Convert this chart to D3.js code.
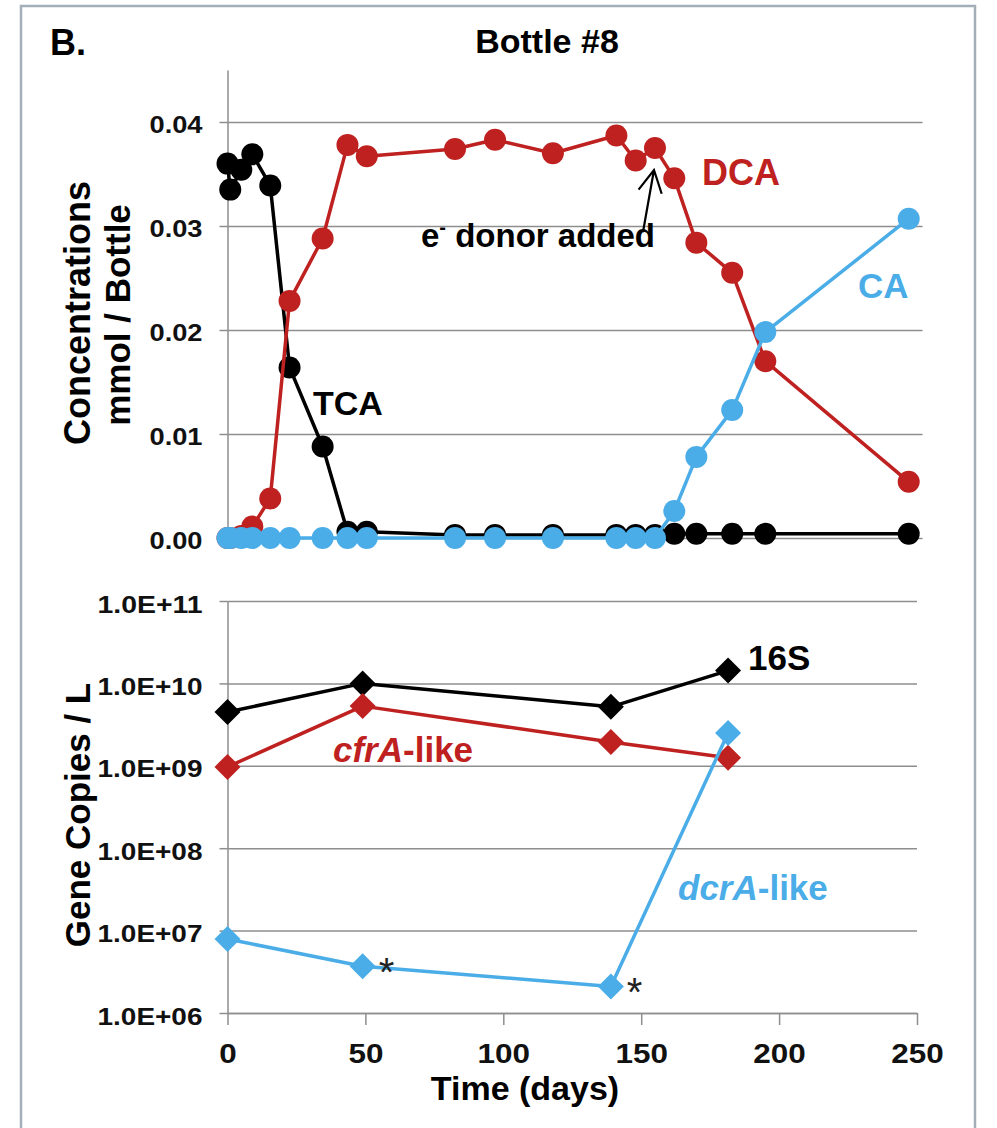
<!DOCTYPE html>
<html>
<head>
<meta charset="utf-8">
<script src="https://cdn.jsdelivr.net/npm/d3@7"></script>
<style>
  html, body { margin: 0; padding: 0; background: #fff; }
  svg { display: block; font-family: Arial, "Liberation Sans", Helvetica, sans-serif; }
</style>
</head>
<body>
<svg id="chart" width="997" height="1128"></svg>
<script>
// ---- Chlorinated ethane concentrations (mmol / bottle) ----
const concDays = [0, 1, 5, 9, 15.5, 22.5, 34.5, 43.5, 50.5, 82.5, 97, 118, 141, 148, 155, 162, 170, 183, 195, 247];
const tca = [0.0360, 0.0335, 0.0354, 0.0369, 0.0339, 0.0164, 0.0088, 0.0006, 0.0006, 0.0003, 0.0003, 0.0003, 0.0003, 0.0003, 0.0003, 0.0004, 0.0004, 0.0004, 0.0004, 0.0004];
const dca = [0, 0, 0.0002, 0.0011, 0.0038, 0.0228, 0.0288, 0.0378, 0.0367, 0.0374, 0.0383, 0.0370, 0.0387, 0.0363, 0.0375, 0.0346, 0.0284, 0.0255, 0.0170, 0.0054];
const ca  = [0, 0, 0, 0, 0, 0, 0, 0, 0, 0, 0, 0, 0, 0, 0, 0.0026, 0.0078, 0.0123, 0.0198, 0.0307];
const concTicks = [0, 0.01, 0.02, 0.03, 0.04];
const concTickLabels = ["0.00", "0.01", "0.02", "0.03", "0.04"];
const donorDay = 155;

// ---- Gene copies per litre (qPCR) ----
const geneDays = [0, 49, 139, 181.5];
const gene16S = [4.5e9, 1.0e10, 5.2e9, 1.43e10];
const cfrA = [0.97e9, 5.3e9, 1.95e9, 1.25e9];
const dcrA = [7.9e6, 3.7e6, 2.1e6, 2.5e9];
const geneTicks = [1e6, 1e7, 1e8, 1e9, 1e10, 1e11];
const geneTickLabels = ["1.0E+06", "1.0E+07", "1.0E+08", "1.0E+09", "1.0E+10", "1.0E+11"];
const dcrAFlagged = [49, 139];   // samples marked with an asterisk

const dayTicks = [0, 50, 100, 150, 200, 250];

const RED = "#BE2120";
const BLUE = "#4BADE8";
const GRID = "#8E8E8E";

const svg = d3.select("#chart");

// outer frame
svg.append("rect")
  .attr("x", 21).attr("y", 6).attr("width", 954).attr("height", 1150)
  .attr("fill", "none").attr("stroke", "#A4AEB8").attr("stroke-width", 2.5);

svg.append("text").attr("x", 50).attr("y", 55)
  .attr("font-size", 36).attr("font-weight", "bold").text("B.");
svg.append("text").attr("x", 547).attr("y", 53).attr("text-anchor", "middle")
  .attr("font-size", 34).attr("font-weight", "bold").text("Bottle #8");

// ================= Top panel: concentrations =================
const xTop = d3.scaleLinear().domain([0, 252]).range([227.5, 922.5]);
const yTop = d3.scaleLinear().domain([0, 0.045]).range([538, 70]);

const topGrid = svg.append("g").attr("transform", `translate(${xTop(0)},0)`)
  .call(d3.axisLeft(yTop).tickValues(concTicks).tickSize(-(xTop.range()[1] - xTop.range()[0])).tickFormat(""));
topGrid.select(".domain").remove();
topGrid.selectAll("line").attr("stroke", GRID).attr("stroke-width", 1.5);

const topAxis = svg.append("g").attr("transform", `translate(${xTop(0)},0)`)
  .call(d3.axisLeft(yTop).tickValues(concTicks).tickSizeInner(8).tickSizeOuter(0)
    .tickFormat((d, i) => concTickLabels[i]));
topAxis.select(".domain").attr("stroke", GRID).attr("stroke-width", 1.5);
topAxis.selectAll("line").attr("stroke", GRID).attr("stroke-width", 1.5);
topAxis.selectAll("text")
  .attr("x", -25).attr("dy", 10).attr("fill", "#111")
  .attr("font-size", 24).attr("font-weight", "bold")
  .attr("textLength", 53).attr("lengthAdjust", "spacingAndGlyphs");

svg.append("text").attr("transform", "translate(90,313) rotate(-90)")
  .attr("text-anchor", "middle").attr("font-size", 36).attr("font-weight", "bold")
  .text("Concentrations");
svg.append("text").attr("transform", "translate(130,315) rotate(-90)")
  .attr("text-anchor", "middle").attr("font-size", 35).attr("font-weight", "bold")
  .text("mmol / Bottle");

function concSeries(values, color) {
  const pts = concDays.map((d, i) => [d, values[i]]);
  const g = svg.append("g");
  g.append("path").datum(pts)
    .attr("fill", "none").attr("stroke", color).attr("stroke-width", 3.5)
    .attr("stroke-linejoin", "round")
    .attr("d", d3.line().x(p => xTop(p[0])).y(p => yTop(p[1])));
  g.selectAll("circle").data(pts).join("circle")
    .attr("cx", p => xTop(p[0])).attr("cy", p => yTop(p[1])).attr("r", 11)
    .attr("fill", color);
}
concSeries(tca, "#000");
concSeries(dca, RED);
concSeries(ca, BLUE);

svg.append("text").attr("x", 702).attr("y", 185).attr("fill", RED)
  .attr("font-size", 36).attr("font-weight", "bold").text("DCA");
svg.append("text").attr("x", 858).attr("y", 298).attr("fill", BLUE)
  .attr("font-size", 35).attr("font-weight", "bold").text("CA");
svg.append("text").attr("x", 313).attr("y", 415).attr("fill", "#000")
  .attr("font-size", 34).attr("font-weight", "bold").text("TCA");

const donorText = svg.append("text").attr("x", 421).attr("y", 247).attr("fill", "#000")
  .attr("font-size", 33).attr("font-weight", "bold");
donorText.append("tspan").text("e");
donorText.append("tspan").attr("font-size", 20).attr("dy", -13).text("-");
donorText.append("tspan").attr("dy", 13).text(" donor added");

// arrow pointing at the DCA sample taken when electron donor was added
const donorIdx = concDays.indexOf(donorDay);
const tip = [xTop(donorDay) - 1, yTop(dca[donorIdx]) + 22];
const tail = [tip[0] - 11, tip[1] + 62];
const ang = Math.atan2(tail[1] - tip[1], tail[0] - tip[0]);
const headLen = 25, spread = 28 * Math.PI / 180;
const h1 = [tip[0] + headLen * Math.cos(ang + spread), tip[1] + headLen * Math.sin(ang + spread)];
const h2 = [tip[0] + headLen * Math.cos(ang - spread), tip[1] + headLen * Math.sin(ang - spread)];
svg.append("path")
  .attr("d", `M${tail[0]},${tail[1]} L${tip[0]},${tip[1]} M${h1[0]},${h1[1]} L${tip[0]},${tip[1]} L${h2[0]},${h2[1]}`)
  .attr("fill", "none").attr("stroke", "#000").attr("stroke-width", 2.2);

// ================= Bottom panel: gene copies =================
const xBot = d3.scaleLinear().domain([0, 250]).range([227.5, 917]);
const yBot = d3.scaleLog().domain([1e6, 1e11]).range([1013, 601]);

const botGrid = svg.append("g").attr("transform", `translate(${xBot(0)},0)`)
  .call(d3.axisLeft(yBot).tickValues(geneTicks).tickSize(-(xBot.range()[1] - xBot.range()[0])).tickFormat(""));
botGrid.select(".domain").remove();
botGrid.selectAll("line").attr("stroke", GRID).attr("stroke-width", 1.5);

const botAxis = svg.append("g").attr("transform", `translate(${xBot(0)},0)`)
  .call(d3.axisLeft(yBot).tickValues(geneTicks).tickSizeInner(8).tickSizeOuter(0)
    .tickFormat((d, i) => geneTickLabels[i]));
botAxis.select(".domain").attr("stroke", GRID).attr("stroke-width", 1.5);
botAxis.selectAll("line").attr("stroke", GRID).attr("stroke-width", 1.5);
botAxis.selectAll("text")
  .attr("x", -25).attr("dy", 11).attr("fill", "#111")
  .attr("font-size", 23).attr("font-weight", "bold")
  .attr("textLength", 105).attr("lengthAdjust", "spacingAndGlyphs");

const xAxis = svg.append("g").attr("transform", `translate(0,${yBot(1e6)})`)
  .call(d3.axisBottom(xBot).tickValues(dayTicks).tickSizeInner(12).tickSizeOuter(0));
xAxis.select(".domain").attr("stroke", GRID).attr("stroke-width", 1.5);
xAxis.selectAll("line").attr("stroke", GRID).attr("stroke-width", 1.5);
xAxis.selectAll("text")
  .attr("y", 50).attr("dy", 0).attr("fill", "#111")
  .attr("font-size", 27).attr("font-weight", "bold")
  .attr("textLength", d => String(d).length * 17.5).attr("lengthAdjust", "spacingAndGlyphs");

svg.append("text").attr("x", 525).attr("y", 1100).attr("text-anchor", "middle")
  .attr("font-size", 34).attr("font-weight", "bold").text("Time (days)");
svg.append("text").attr("transform", "translate(90,815) rotate(-90)")
  .attr("text-anchor", "middle").attr("font-size", 35).attr("font-weight", "bold")
  .text("Gene Copies / L");

const diamond = s => `M0,${-s} L${s},0 L0,${s} L${-s},0 Z`;
function geneSeries(values, color) {
  const pts = geneDays.map((d, i) => [d, values[i]]);
  const g = svg.append("g");
  g.append("path").datum(pts)
    .attr("fill", "none").attr("stroke", color).attr("stroke-width", 3.5)
    .attr("stroke-linejoin", "round")
    .attr("d", d3.line().x(p => xBot(p[0])).y(p => yBot(p[1])));
  g.selectAll(".mk").data(pts).join("path")
    .attr("transform", p => `translate(${xBot(p[0])},${yBot(p[1])})`)
    .attr("d", diamond(13)).attr("fill", color);
}
geneSeries(gene16S, "#000");
geneSeries(cfrA, RED);
geneSeries(dcrA, BLUE);

svg.append("text").attr("x", 748).attr("y", 670).attr("fill", "#000")
  .attr("font-size", 35).attr("font-weight", "bold").text("16S");

const cfrText = svg.append("text").attr("x", 333).attr("y", 762).attr("fill", RED)
  .attr("font-size", 35).attr("font-weight", "bold");
cfrText.append("tspan").attr("font-style", "italic").text("cfrA");
cfrText.append("tspan").text("-like");

const dcrText = svg.append("text").attr("x", 678).attr("y", 900).attr("fill", BLUE)
  .attr("font-size", 35).attr("font-weight", "bold");
dcrText.append("tspan").attr("font-style", "italic").text("dcrA");
dcrText.append("tspan").text("-like");

// asterisks beside flagged dcrA samples
svg.selectAll(".flag").data(dcrAFlagged).join("text")
  .attr("x", d => xBot(d) + 16)
  .attr("y", d => yBot(dcrA[geneDays.indexOf(d)]) + 20)
  .attr("font-size", 40).attr("fill", "#222").text("*");
</script>
</body>
</html>
